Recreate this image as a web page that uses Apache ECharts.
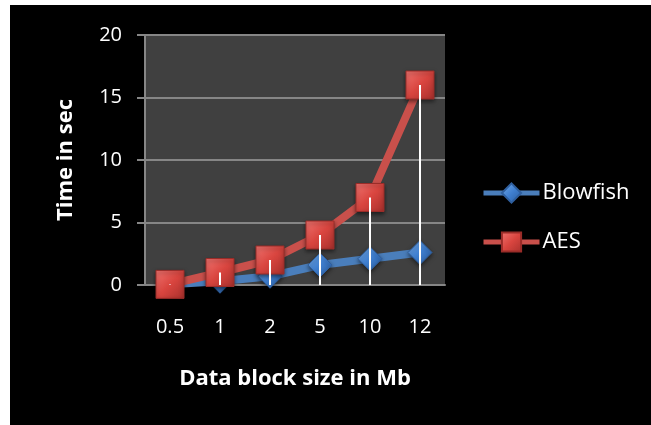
<!DOCTYPE html>
<html>
<head>
<meta charset="utf-8">
<script src="https://cdn.jsdelivr.net/npm/echarts@6/dist/echarts.min.js"></script>
<style>
html,body{margin:0;padding:0;background:#fff;width:651px;height:425px;overflow:hidden;}
#chart{position:absolute;left:10px;top:5px;width:641px;height:420px;background:#000;}
</style>
</head>
<body>
<div id="chart"></div>
<script>
var categories = ['0.5', '1', '2', '5', '10', '12'];
var blowfish = [0.05, 0.3, 0.7, 1.6, 2.1, 2.6];
var aes = [0.05, 1, 2, 4, 7, 16];
var yTicks = { min: 0, max: 20, interval: 5 };

var chart = echarts.init(document.getElementById('chart'));
var font = '"Open Sans", sans-serif';

var redFill = new echarts.graphic.LinearGradient(0, 0, 1, 1, [
  { offset: 0, color: '#f07470' },
  { offset: 0.5, color: '#d9453f' },
  { offset: 1, color: '#a8302c' }
]);
var blueFill = new echarts.graphic.LinearGradient(0, 0, 1, 1, [
  { offset: 0, color: '#7aaee8' },
  { offset: 0.5, color: '#3f7fd0' },
  { offset: 1, color: '#28599a' }
]);

chart.setOption({
  backgroundColor: '#000',
  animation: false,
  grid: {
    left: 135, right: 206, top: 30, bottom: 140,
    show: true, backgroundColor: '#404040', borderWidth: 0
  },
  legend: {
    orient: 'vertical',
    left: 466, top: 171,
    itemWidth: 56, itemHeight: 24,
    itemGap: 25,
    data: ['Blowfish', 'AES'],
    lineStyle: { width: 5 },
    textStyle: { color: '#fff', fontSize: 22, fontFamily: font, lineHeight: 24, padding: [0, 0, 0, -2] }
  },
  xAxis: {
    type: 'category',
    data: categories,
    boundaryGap: true,
    name: 'Data block size in Mb',
    nameLocation: 'middle',
    nameGap: 83,
    nameTextStyle: { color: '#fff', fontSize: 22, fontWeight: 'bold', fontFamily: font },
    axisLine: { lineStyle: { color: '#868686', width: 2 } },
    axisTick: { show: false },
    axisLabel: { color: '#fff', fontSize: 20, fontFamily: font, margin: 32 }
  },
  yAxis: {
    type: 'value',
    min: yTicks.min, max: yTicks.max, interval: yTicks.interval,
    name: 'Time in sec',
    nameLocation: 'middle',
    nameGap: 68,
    nameTextStyle: { color: '#fff', fontSize: 22, fontWeight: 'bold', fontFamily: font },
    axisLine: { show: true, lineStyle: { color: '#868686', width: 2 } },
    axisTick: { show: true, length: 8, lineStyle: { color: '#868686', width: 2 } },
    splitLine: { show: true, lineStyle: { color: '#868686', width: 2 } },
    axisLabel: { color: '#fff', fontSize: 20, fontFamily: font, margin: 23 }
  },
  series: [
    {
      name: 'Blowfish',
      type: 'line',
      data: blowfish,
      color: '#4a7ebb',
      symbol: 'diamond',
      symbolSize: 24,
      lineStyle: { color: '#4a7ebb', width: 8 },
      itemStyle: { color: blueFill, borderColor: '#2f5f9e', borderWidth: 1, shadowColor: 'rgba(0,0,0,0.5)', shadowBlur: 4, shadowOffsetY: 2 },
      z: 2
    },
    {
      name: 'AES',
      type: 'line',
      data: aes,
      color: '#c9504b',
      symbol: 'rect',
      symbolSize: 28,
      lineStyle: { color: '#c9504b', width: 8 },
      itemStyle: { color: redFill, borderColor: '#9a2c28', borderWidth: 1, shadowColor: 'rgba(0,0,0,0.5)', shadowBlur: 4, shadowOffsetY: 2 },
      z: 3
    },
    {
      name: 'drop',
      type: 'bar',
      data: aes,
      barWidth: 2,
      silent: true,
      itemStyle: { color: '#ffffff' },
      z: 4
    }
  ]
});
</script>
</body>
</html>
